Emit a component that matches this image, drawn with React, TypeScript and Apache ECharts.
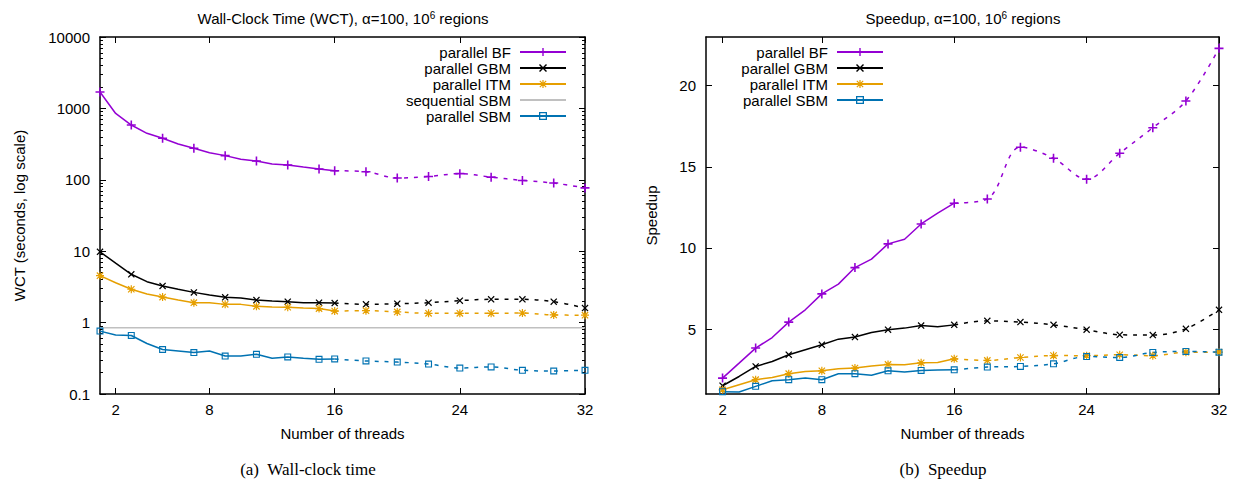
import React, { useEffect, useRef } from 'react';
import * as echarts from 'echarts';

// ---------- data ----------
const threadsWctSolid = [1, 2, 3, 4, 5, 6, 7, 8, 9, 10, 11, 12, 13, 14, 15, 16];
const threadsSpSolid = [2, 3, 4, 5, 6, 7, 8, 9, 10, 11, 12, 13, 14, 15, 16];
const threadsDashed = [16, 18, 20, 22, 24, 26, 28, 30, 32];

// Wall-clock time (seconds)
const wctBFSolid = [1700, 850, 585, 448, 381, 317, 276, 240, 218, 194, 183, 166, 161, 151, 142, 134];
const wctBFDashed = [134, 130, 106, 111, 122, 109, 98, 90, 77];
const wctGBMSolid = [9.8, 6.8, 4.75, 3.74, 3.26, 2.93, 2.65, 2.44, 2.26, 2.21, 2.07, 2.01, 1.96, 1.9, 1.9, 1.88];
const wctGBMDashed = [1.88, 1.8, 1.84, 1.9, 2.03, 2.12, 2.12, 1.96, 1.6];
const wctITMSolid = [4.54, 3.62, 2.93, 2.52, 2.28, 2.07, 1.9, 1.9, 1.8, 1.8, 1.69, 1.65, 1.64, 1.6, 1.57, 1.45];
const wctITMDashed = [1.45, 1.47, 1.41, 1.35, 1.35, 1.35, 1.36, 1.28, 1.27];
const wctSeqSBM = 0.85;
const wctSBMSolid = [0.76, 0.67, 0.66, 0.51, 0.42, 0.4, 0.38, 0.4, 0.34, 0.34, 0.36, 0.316, 0.33, 0.316, 0.306, 0.31];
const wctSBMDashed = [0.31, 0.29, 0.28, 0.263, 0.231, 0.239, 0.215, 0.21, 0.215];

// Speedup
const spBFSolid = [1.98, 2.9, 3.83, 4.48, 5.43, 6.19, 7.17, 7.77, 8.79, 9.31, 10.25, 10.54, 11.48, 12.14, 12.76];
const spBFDashed = [12.76, 13.02, 16.21, 15.53, 14.24, 15.84, 17.41, 19.06, 22.3];
const spGBMSolid = [1.51, 2.08, 2.7, 3.0, 3.42, 3.73, 4.03, 4.38, 4.51, 4.79, 4.96, 5.06, 5.22, 5.14, 5.26];
const spGBMDashed = [5.26, 5.51, 5.43, 5.26, 4.96, 4.65, 4.63, 5.02, 6.19];
const spITMSolid = [1.26, 1.57, 1.88, 2.02, 2.25, 2.39, 2.43, 2.55, 2.6, 2.72, 2.82, 2.8, 2.92, 2.94, 3.17];
const spITMDashed = [3.17, 3.07, 3.25, 3.37, 3.36, 3.42, 3.36, 3.58, 3.58];
const spSBMSolid = [1.14, 1.12, 1.47, 1.82, 1.88, 1.98, 1.88, 2.25, 2.25, 2.15, 2.43, 2.35, 2.45, 2.48, 2.49];
const spSBMDashed = [2.49, 2.66, 2.7, 2.86, 3.31, 3.25, 3.56, 3.62, 3.58];

// ticks
const xTickValues = [2, 8, 16, 24, 32];
const wctTickValues = [0.1, 1, 10, 100, 1000, 10000];
const wctTickLabels = ['0.1', '1', '10', '100', '1000', '10000'];
const wctMinorTicks = [
  0.2, 0.3, 0.4, 0.5, 0.6, 0.7, 0.8, 0.9,
  2, 3, 4, 5, 6, 7, 8, 9,
  20, 30, 40, 50, 60, 70, 80, 90,
  200, 300, 400, 500, 600, 700, 800, 900,
  2000, 3000, 4000, 5000, 6000, 7000, 8000, 9000,
];
const spTickValues = [5, 10, 15, 20];

const legendWct = ['parallel BF', 'parallel GBM', 'parallel ITM', 'sequential SBM', 'parallel SBM'];
const legendSp = ['parallel BF', 'parallel GBM', 'parallel ITM', 'parallel SBM'];

// ---------- styles ----------
const SANS = '"Liberation Sans", Arial, Helvetica, sans-serif';
const SERIF = '"Liberation Serif", "Times New Roman", serif';
const C_BF = '#9400d3';
const C_GBM = '#000000';
const C_ITM = '#e69f00';
const C_SBM = '#0072b2';
const C_SEQ = '#c0c0c0';

const plusPath = 'path://M6.6,0L9.4,0L9.4,6.6L16,6.6L16,9.4L9.4,9.4L9.4,16L6.6,16L6.6,9.4L0,9.4L0,6.6L6.6,6.6Z';
const crossPath = 'path://M2,0L8,6L14,0L16,2L10,8L16,14L14,16L8,10L2,16L0,14L6,8L0,2Z';
const starPath =
  'path://M6.8,0L9.2,0L9.2,6.8L16,6.8L16,9.2L9.2,9.2L9.2,16L6.8,16L6.8,9.2L0,9.2L0,6.8L6.8,6.8Z' +
  'M2.5,0.8L8,6.3L13.5,0.8L15.2,2.5L9.7,8L15.2,13.5L13.5,15.2L8,9.7L2.5,15.2L0.8,13.5L6.3,8L0.8,2.5Z';
const squarePath = 'path://M0,0L16,0L16,16L0,16ZM2.6,2.6L2.6,13.4L13.4,13.4L13.4,2.6Z';

type Sty = { color: string; symbol: string; size: number };
const S_BF: Sty = { color: C_BF, symbol: plusPath, size: 9 };
const S_GBM: Sty = { color: C_GBM, symbol: crossPath, size: 7 };
const S_ITM: Sty = { color: C_ITM, symbol: starPath, size: 8 };
const S_SBM: Sty = { color: C_SBM, symbol: squarePath, size: 7 };

function lineSeries(
  name: string,
  xs: number[],
  ys: number[],
  sty: Sty,
  axis: number,
  yAxis: number,
  dashed: boolean,
  marked: (x: number) => boolean
) {
  return {
    type: 'line',
    name,
    xAxisIndex: axis,
    yAxisIndex: yAxis,
    data: xs.map((x, i) => (marked(x) ? { value: [x, ys[i]] } : { value: [x, ys[i]], symbol: 'none' })),
    symbol: sty.symbol,
    symbolSize: sty.size,
    showSymbol: true,
    showAllSymbol: true,
    smooth: dashed ? 0.35 : false,
    clip: false,
    silent: true,
    lineStyle: { color: sty.color, width: 1.5, type: dashed ? [4, 6] : 'solid' },
    itemStyle: { color: sty.color, borderWidth: 0 },
    emphasis: { disabled: true },
  };
}

const axisLine = { show: true, lineStyle: { color: '#000', width: 1.5 } };
const tickLine = { color: '#000', width: 1 };
const labelStyle = { fontSize: 15, color: '#000', fontFamily: SANS };

function xAxes(gridIndex: number) {
  return [
    {
      gridIndex,
      type: 'value',
      position: 'bottom',
      min: 1,
      max: 32,
      axisLine,
      axisTick: { show: true, inside: true, length: 6, customValues: xTickValues, lineStyle: tickLine },
      axisLabel: { ...labelStyle, margin: 8, customValues: xTickValues },
      splitLine: { show: false },
      name: 'Number of threads',
      nameLocation: 'middle',
      nameGap: 32,
      nameTextStyle: labelStyle,
    },
    {
      gridIndex,
      type: 'value',
      position: 'top',
      min: 1,
      max: 32,
      axisLine,
      axisTick: { show: true, inside: true, length: 6, customValues: xTickValues, lineStyle: tickLine },
      axisLabel: { show: false },
      splitLine: { show: false },
    },
  ];
}

function logAxis(position: string, major: boolean, withLabels: boolean) {
  return {
    gridIndex: 0,
    type: 'log',
    logBase: 10,
    position,
    min: 0.1,
    max: 10000,
    axisLine: major ? axisLine : { show: false },
    axisTick: {
      show: true,
      inside: true,
      length: major ? 6 : 3,
      customValues: major ? wctTickValues : wctMinorTicks,
      lineStyle: tickLine,
    },
    axisLabel: withLabels
      ? {
          ...labelStyle,
          margin: 10,
          customValues: wctTickValues,
          formatter: (v: number) => {
            let best = 0;
            wctTickValues.forEach((t, i) => {
              if (Math.abs(Math.log10(t) - Math.log10(v)) < Math.abs(Math.log10(wctTickValues[best]) - Math.log10(v))) best = i;
            });
            return wctTickLabels[best];
          },
        }
      : { show: false },
    splitLine: { show: false },
    minorTick: { show: false },
    ...(withLabels
      ? {
          name: 'WCT (seconds, log scale)',
          nameLocation: 'middle',
          nameGap: 73,
          nameRotate: 90,
          nameTextStyle: labelStyle,
        }
      : {}),
  };
}

function spAxis(position: string, withLabels: boolean) {
  return {
    gridIndex: 1,
    type: 'value',
    position,
    min: 1,
    max: 23,
    axisLine,
    axisTick: { show: true, inside: true, length: 6, customValues: spTickValues, lineStyle: tickLine },
    axisLabel: withLabels ? { ...labelStyle, margin: 10, customValues: spTickValues } : { show: false },
    splitLine: { show: false },
    ...(withLabels
      ? { name: 'Speedup', nameLocation: 'middle', nameGap: 47, nameRotate: 90, nameTextStyle: labelStyle }
      : {}),
  };
}

const oddMarked = (x: number) => x % 2 === 1;
const evenMarked = (x: number) => x % 2 === 0 && x < 16;
const allMarked = () => true;
const noneMarked = () => false;

function buildOption() {
  const series: any[] = [
    // left chart
    lineSeries('parallel BF', threadsWctSolid, wctBFSolid, S_BF, 0, 0, false, oddMarked),
    lineSeries('parallel BF', threadsDashed, wctBFDashed, S_BF, 0, 0, true, allMarked),
    lineSeries('parallel GBM', threadsWctSolid, wctGBMSolid, S_GBM, 0, 0, false, oddMarked),
    lineSeries('parallel GBM', threadsDashed, wctGBMDashed, S_GBM, 0, 0, true, allMarked),
    lineSeries('parallel ITM', threadsWctSolid, wctITMSolid, S_ITM, 0, 0, false, oddMarked),
    lineSeries('parallel ITM', threadsDashed, wctITMDashed, S_ITM, 0, 0, true, allMarked),
    {
      ...lineSeries(
        'sequential SBM',
        [1, 32],
        [wctSeqSBM, wctSeqSBM],
        { color: C_SEQ, symbol: 'circle', size: 1 },
        0,
        0,
        false,
        noneMarked
      ),
      itemStyle: { color: 'rgba(0,0,0,0)', borderWidth: 0 },
    },
    lineSeries('parallel SBM', threadsWctSolid, wctSBMSolid, S_SBM, 0, 0, false, oddMarked),
    lineSeries('parallel SBM', threadsDashed, wctSBMDashed, S_SBM, 0, 0, true, allMarked),
    // right chart
    lineSeries('parallel BF', threadsSpSolid, spBFSolid, S_BF, 2, 4, false, evenMarked),
    lineSeries('parallel BF', threadsDashed, spBFDashed, S_BF, 2, 4, true, allMarked),
    lineSeries('parallel GBM', threadsSpSolid, spGBMSolid, S_GBM, 2, 4, false, evenMarked),
    lineSeries('parallel GBM', threadsDashed, spGBMDashed, S_GBM, 2, 4, true, allMarked),
    lineSeries('parallel ITM', threadsSpSolid, spITMSolid, S_ITM, 2, 4, false, evenMarked),
    lineSeries('parallel ITM', threadsDashed, spITMDashed, S_ITM, 2, 4, true, allMarked),
    lineSeries('parallel SBM', threadsSpSolid, spSBMSolid, S_SBM, 2, 4, false, evenMarked),
    lineSeries('parallel SBM', threadsDashed, spSBMDashed, S_SBM, 2, 4, true, allMarked),
  ];

  const legendCommon = {
    orient: 'vertical',
    align: 'right',
    itemWidth: 46,
    itemHeight: 10,
    itemGap: 0,
    padding: 0,
    selectedMode: false,
    textStyle: { fontSize: 15, lineHeight: 16, color: '#000', fontFamily: SANS, padding: [0, 4, 0, 0] },
  };

  return {
    animation: false,
    backgroundColor: '#ffffff',
    grid: [
      { left: 100, right: 1239 - 585, top: 37, bottom: 484 - 394, containLabel: false },
      { left: 706, right: 1239 - 1219, top: 37, bottom: 484 - 394, containLabel: false },
    ],
    xAxis: [...xAxes(0), ...xAxes(1)],
    yAxis: [
      logAxis('left', true, true),
      logAxis('left', false, false),
      logAxis('right', true, false),
      logAxis('right', false, false),
      spAxis('left', true),
      spAxis('right', false),
    ],
    legend: [
      { ...legendCommon, right: 1239 - 567, top: 44, data: legendWct },
      { ...legendCommon, right: 1239 - 884, top: 44, data: legendSp },
    ],
    graphic: [
      {
        type: 'text',
        x: 343,
        y: 18,
        style: {
          text: 'Wall-Clock Time (WCT), α=100, 10{sup|6} regions',
          fontSize: 15,
          fontFamily: SANS,
          fill: '#000',
          align: 'center',
          verticalAlign: 'middle',
          rich: { sup: { fontSize: 10, fontFamily: SANS, verticalAlign: 'top', lineHeight: 10, fill: '#000' } },
        },
      },
      {
        type: 'text',
        x: 963,
        y: 18,
        style: {
          text: 'Speedup, α=100, 10{sup|6} regions',
          fontSize: 15,
          fontFamily: SANS,
          fill: '#000',
          align: 'center',
          verticalAlign: 'middle',
          rich: { sup: { fontSize: 10, fontFamily: SANS, verticalAlign: 'top', lineHeight: 10, fill: '#000' } },
        },
      },
      {
        type: 'text',
        x: 308,
        y: 469,
        style: { text: '(a)  Wall-clock time', fontSize: 17, fontFamily: SERIF, fill: '#000', align: 'center', verticalAlign: 'middle' },
      },
      {
        type: 'text',
        x: 943,
        y: 469,
        style: { text: '(b)  Speedup', fontSize: 17, fontFamily: SERIF, fill: '#000', align: 'center', verticalAlign: 'middle' },
      },
    ],
    series,
  };
}

export default function App() {
  const ref = useRef<HTMLDivElement>(null);
  useEffect(() => {
    if (!ref.current) return;
    const chart = echarts.init(ref.current, undefined, { renderer: 'svg' });
    chart.setOption(buildOption() as any);
    return () => chart.dispose();
  }, []);
  return <div ref={ref} style={{ position: 'absolute', left: 0, top: 0, width: 1239, height: 484, background: '#fff' }} />;
}
